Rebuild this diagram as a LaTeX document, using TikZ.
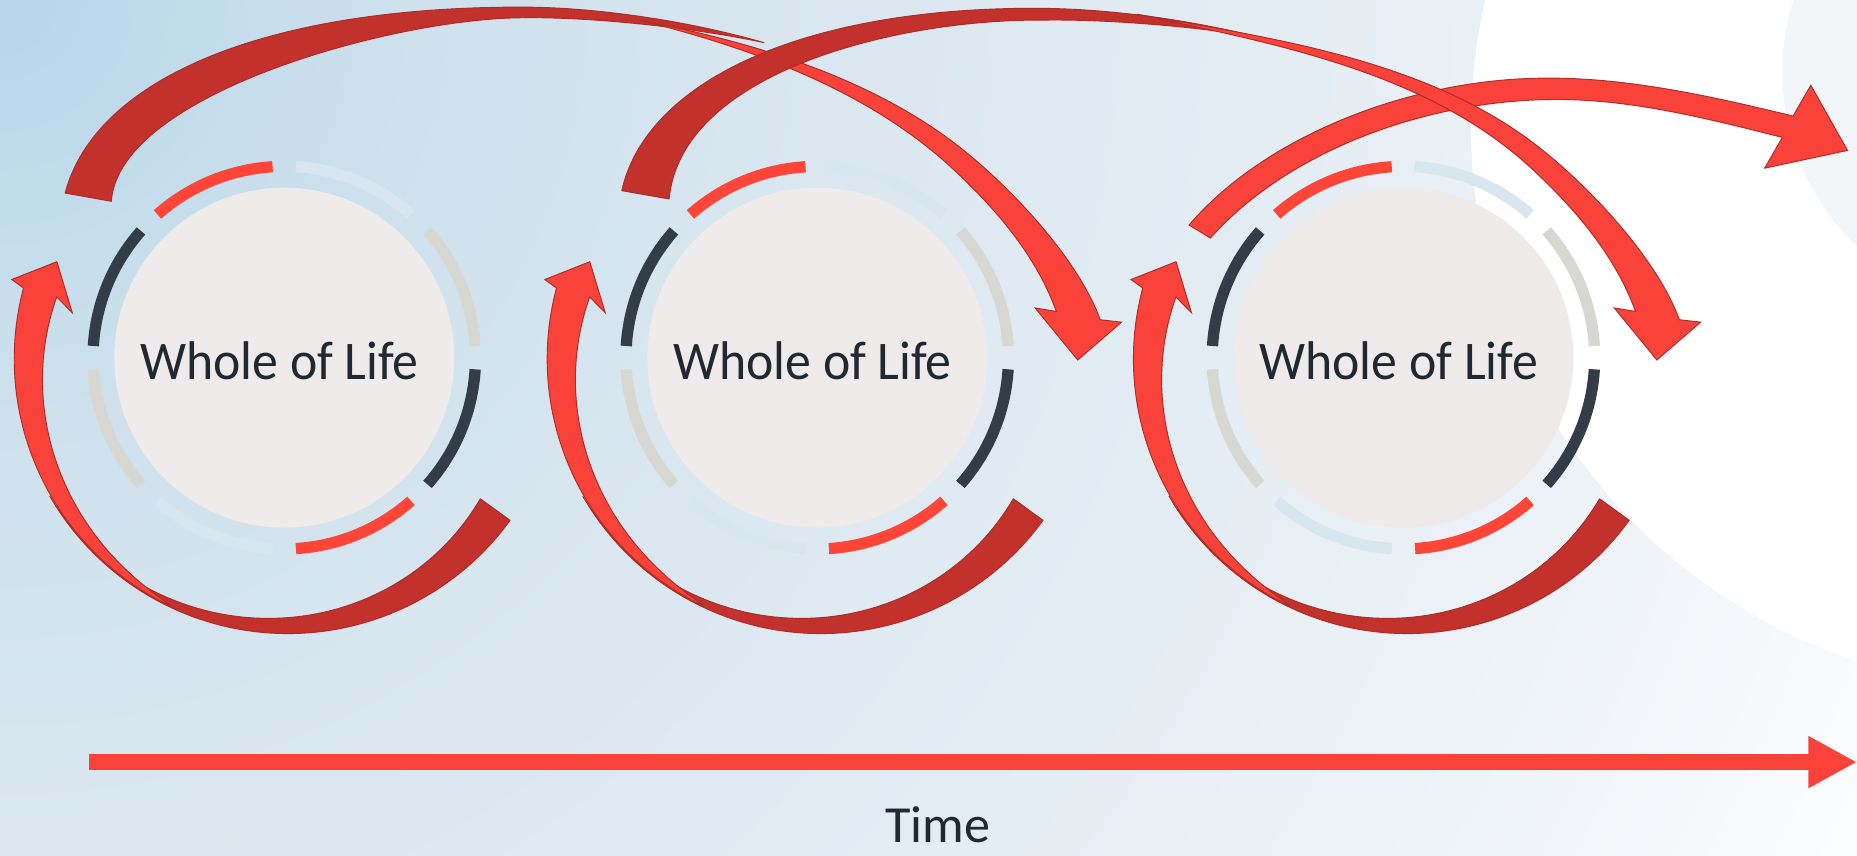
\documentclass[tikz,border=0pt]{standalone}
\usepackage{fontspec}
\setmainfont{Carlito}
\usetikzlibrary{calc,arrows.meta}
\definecolor{bred}{HTML}{F9433A}
\definecolor{dred}{HTML}{C3312D}
\definecolor{edgered}{HTML}{AE2B26}
\definecolor{ringred}{HTML}{FF4538}
\definecolor{navy}{HTML}{323D48}
\definecolor{lgray}{HTML}{D8D8D3}
\definecolor{lblue}{HTML}{D7E6EF}
\definecolor{disc}{HTML}{EFEBEA}
\definecolor{txt}{HTML}{1F2931}
\definecolor{bgA}{HTML}{B7D6EA}
\definecolor{bgB}{HTML}{CEE1ED}
\definecolor{bgC}{HTML}{DAE7F0}
\definecolor{bgD}{HTML}{E3ECF3}
\definecolor{bgE}{HTML}{EEF3F8}
\definecolor{bgF}{HTML}{FCFDFE}
\definecolor{tint}{HTML}{F3F6F9}
\pgfdeclareradialshading{bgrad}{\pgfpointorigin}{color(0bp)=(bgA); color(5bp)=(bgB); color(10bp)=(bgC); color(15bp)=(bgD); color(20bp)=(bgE); color(25bp)=(bgF); color(50bp)=(bgF)}
\tikzset{
  darkband/.style={fill=dred, draw=edgered, line width=0.8pt, line join=round},
  brightband/.style={fill=bred, draw=edgered, line width=0.8pt, line join=miter},
  ringdash/.style={line width=9.5pt},
  wlabel/.style={text=txt, inner sep=0pt, font=\fontsize{46}{50}\selectfont, xscale=0.95, anchor=base},
}
\begin{document}
\begin{tikzpicture}[x=1pt, y=-1pt]
\useasboundingbox (0,0) rectangle (1568,722);
\begin{scope}
\clip (0,0) rectangle (1568,722);
\shade[shading=bgrad] (0,0) circle[radius=1750pt];
\fill[white] (1717,107) circle[radius=475pt];
\fill[tint] (1708,61) circle[radius=203pt];
\end{scope}

% the three circles
\foreach \cx/\tx/\n in {240/236/1, 690/686/2, 1185/1181/3}{
  \coordinate (c\n) at (\cx,302);
  \fill[disc] (c\n) circle[radius=143.5pt];
  \foreach \a/\col in {0/lgray,45/lblue,90/ringred,135/navy,180/lgray,225/lblue,270/ringred,315/navy}{
    \draw[ringdash, \col] (c\n) ++(\a+3.5:161.5pt) arc[start angle=\a+3.5, end angle=\a+41.5, radius=161.5pt];
  }
  \node[wlabel] (t\n) at (\tx,320.5) {Whole of Life};
}

% bottom dark arcs and left rising arrows (spiral around each circle)
\foreach \s in {0,450,945}{
 \begin{scope}[xshift=\s pt]
  \path[darkband] plot[domain=324:210, samples=70] ({243+232*cos(\x)}, {303-232*sin(\x)})
     -- plot[domain=210.5:324, samples=70] ({243+(232-31*((\x-210)/114)^1.3)*cos(\x)}, {303-(232-31*((\x-210)/114)^1.3)*sin(\x)}) -- cycle;
  \path[brightband] plot[domain=244.5:165, samples=60] ({243+231*cos(\x)}, {303-231*sin(\x)})
     -- (10,236) -- (48,221) -- (61,264)
     -- plot[domain=165:244.5, samples=60] ({243+(231-29*((245-\x)/80)^0.8)*cos(\x)}, {303-(231-29*((245-\x)/80)^0.8)*sin(\x)}) -- cycle;
 \end{scope}
}

% arrow from circle 1 over the top
\path[darkband] (55,163) .. controls (80,68) and (220,6) .. (440,6) .. controls (510,6) and (590,20) .. (645,36)
   .. controls (590,24) and (500,14) .. (440,15) .. controls (330,16) and (100,80) .. (94,170) -- cycle;
\path[brightband] (540,17) .. controls (633,35) and (733.6,64.3) .. (810,124) .. controls (853.3,157.9) and (910.2,218.3) .. (929,270)
   -- (947,272) -- (910,304) -- (874,260) -- (892,263)
   .. controls (874.9,216) and (841.6,177.1) .. (805,143) .. controls (733.3,76.2) and (635.1,40.7) .. (540,17) -- cycle;
% arrow from circle 3 to the right
\path[brightband] (1004,190) .. controls (1069,114) and (1192,67) .. (1302,66) .. controls (1372,65) and (1444,81) .. (1514,98)
   -- (1529,72) -- (1560,127) -- (1490,142) -- (1505,116)
   .. controls (1445,101) and (1380,84) .. (1315,84) .. controls (1200,84) and (1085,130) .. (1022,201) -- cycle;
% arrow from circle 2 over the top
\path[darkband] (525,161) .. controls (545,71) and (673,7) .. (873,7) .. controls (940,7) and (1010,18) .. (1065,32)
   .. controls (1010,22) and (930,16) .. (880,17) .. controls (760,16) and (575,60) .. (565,168) -- cycle;
\path[brightband] (960,12) .. controls (1077.2,32.7) and (1205.2,50.7) .. (1299,124) .. controls (1342.3,157.9) and (1399.2,218.3) .. (1418,270)
   -- (1436,272) -- (1399,304) -- (1363,260) -- (1381,263)
   .. controls (1363.9,216) and (1330.6,177.1) .. (1294,143) .. controls (1206.3,61.2) and (1077.4,36.9) .. (960,12) -- cycle;

% time axis
\coordinate (ts) at (75,643.5);
\coordinate (te) at (1568,643.5);
\draw[bred, line width=14pt, -{Triangle[length=41pt,width=41pt]}] (ts) -- (te);
\node[text=txt, font=\fontsize{44}{48}\selectfont, anchor=base, inner sep=0pt] (time) at (792,711) {Time};
\end{tikzpicture}
\end{document}
